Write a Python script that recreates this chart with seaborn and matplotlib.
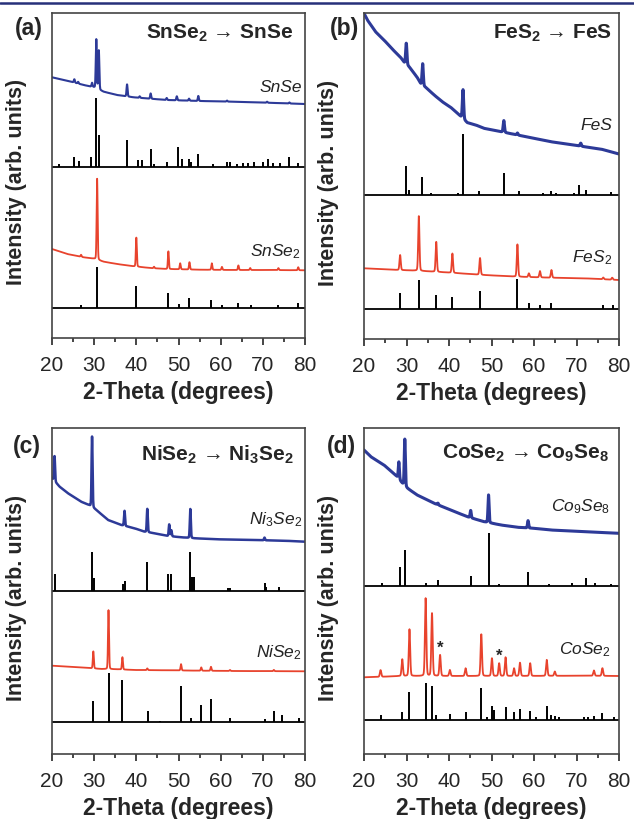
import numpy as np
import matplotlib
matplotlib.use("Agg")
import matplotlib.pyplot as plt
from matplotlib.lines import Line2D
from matplotlib.ticker import MultipleLocator
import seaborn as sns

# ---- data (2-theta in degrees, intensity in arb. units) ----
# (a) SnSe2 -> SnSe
snse_bg_x = [20, 23.6, 27.5, 29.9, 32.2, 35.4, 39.3, 43.3, 47.2, 55.1, 63.0, 70.9, 80]
snse_bg_y = [260.7, 257.3, 253, 250.7, 246.3, 243, 240.7, 239.3, 238, 237, 236.3, 235.3, 234]
snse_pk_x = [25.3, 26.2, 29.5, 30.5, 31.1, 37.8, 40.8, 43.4, 47.2, 49.6, 52.5, 54.7, 61.5, 71.0, 76.3]
snse_pk_h = [3.3, 1.7, 4, 49, 39, 12, 1.5, 5.3, 2, 4, 2, 5, 1, 1, 1]
snse_ref_x = [21.6, 25.3, 26.3, 29.2, 30.4, 31.1, 37.8, 40.5, 41.3, 43.4, 44.2, 47.2, 49.8, 50.8,
              52.4, 52.9, 54.7, 58.3, 61.4, 62.2, 63.8, 65.4, 66.6, 67.8, 70.1, 71.3, 72.4, 74.0, 76.3, 78.4]
snse_ref_h = [3.3, 10, 6, 10, 69, 32, 27, 7, 7, 18, 3, 5, 20, 8,
              8, 5, 13, 3, 5, 5, 3, 4, 4, 5, 5, 8, 4, 4, 10, 4]

snse2_bg_x = [20, 23.6, 27.5, 29.9, 32.2, 35.4, 39.3, 43.3, 47.2, 55.1, 63.0, 70.9, 80]
snse2_bg_y = [89, 84, 80.7, 79.3, 76.3, 74, 71.7, 70, 69, 68.3, 68, 68, 67.7]
snse2_pk_x = [26.9, 30.7, 40.0, 44.2, 47.6, 50.4, 52.6, 57.9, 60.3, 64.2, 67.0, 73.7, 78.4]
snse2_pk_h = [2, 81, 29, 1.5, 17.7, 6, 7.3, 6.5, 3, 4.6, 2, 2, 3]
snse2_ref_x = [26.9, 30.7, 40.0, 47.6, 50.2, 52.6, 57.7, 60.3, 64.1, 67.1, 73.7, 78.3]
snse2_ref_h = [2.7, 40.7, 21.7, 15, 4.3, 10, 8.3, 2.7, 5, 2.7, 2.7, 5]

# (b) FeS2 -> FeS
fes_bg_x = [20, 20.8, 22.7, 24.7, 26.7, 28.6, 29.6, 30.6, 32.5, 33.5, 34.5, 36.5, 38.4, 40.4,
            42.4, 44.3, 46.3, 48.2, 52.2, 56.1, 60, 63.9, 67.8, 71.8, 75.7, 80]
fes_bg_y = [325.7, 319, 307.3, 299, 289.7, 281.7, 275.7, 272.3, 261.7, 254, 251.7, 244, 237.3, 231.7,
            224, 216.3, 214, 210.7, 207.3, 204, 200.7, 197.3, 195, 192.3, 190, 185]
fes_pk_x = [29.95, 33.8, 43.3, 52.9, 56.1, 71.0]
fes_pk_h = [21.3, 22, 29, 11.7, 2, 3]
fes_ref_x = [29.95, 30.7, 33.7, 35.7, 42.0, 43.3, 47.1, 52.9, 56.5, 62.0, 63.9, 65.1, 69.4, 70.7, 72.2, 78.0]
fes_ref_h = [28.7, 4.3, 17.7, 2, 1.7, 61, 3.7, 21.7, 3.7, 1.7, 3.3, 1.7, 1.7, 9.3, 4.3, 2.7]

fes2_bg_x = [20, 24.7, 28.2, 32.5, 40.4, 48.2, 56.1, 63.9, 71.8, 80]
fes2_bg_y = [70.7, 69.7, 69, 68.3, 66.3, 64, 62.3, 61.3, 60.7, 59]
fes2_pk_x = [28.5, 32.9, 37.0, 40.8, 47.3, 56.1, 58.8, 61.4, 64.1, 76.3, 78.4]
fes2_pk_h = [15, 54.7, 30, 19.3, 16.7, 32.3, 3.7, 6.3, 7.7, 1.7, 2]
fes2_ref_x = [28.5, 32.9, 37.0, 40.8, 47.3, 56.1, 58.8, 61.4, 64.1, 76.3, 78.6]
fes2_ref_h = [16, 28.7, 14.3, 12, 17.7, 30.3, 6, 3.7, 6, 3.7, 3.7]

# (c) NiSe2 -> Ni3Se2
ni3se2_bg_x = [20, 21.8, 23.8, 26.9, 28.7, 30.5, 33.3, 36.4, 39.6, 41.9, 44.3, 47.5, 50.6, 53.8, 59.3, 67.2, 75.1, 80]
ni3se2_bg_y = [275.7, 267.3, 260.7, 252.3, 249, 244, 234, 229, 225.7, 222.3, 220.7, 218, 216.7, 215.7, 214.7, 214, 213.3, 212.3]
ni3se2_pk_x = [20.6, 29.5, 37.2, 42.6, 47.8, 48.3, 52.8, 70.4]
ni3se2_pk_h = [25, 70.7, 15, 23.3, 11.7, 6, 29, 2.7]
ni3se2_ref_x = [20.6, 29.5, 30.0, 36.9, 37.2, 42.6, 47.6, 48.3, 52.8, 53.3, 53.6, 61.7, 62.3, 70.4, 70.8, 73.9]
ni3se2_ref_h = [16.7, 39.3, 12.7, 7, 10.3, 29.3, 16.7, 16.7, 39.3, 14.3, 14.3, 2.7, 2.7, 7.7, 4.3, 4.3]

nise2_bg_x = [20, 23.8, 27.7, 31.7, 35.6, 39.6, 47.5, 55.4, 63.3, 80]
nise2_bg_y = [88.3, 87.3, 86.3, 85, 84.7, 84, 83.7, 83.3, 83, 82.7]
nise2_pk_x = [29.8, 33.4, 36.7, 42.6, 50.6, 55.4, 57.7, 62.2, 72.6]
nise2_pk_h = [17, 59, 12.3, 1.7, 6.3, 3.3, 4, 1, 1.3]
nise2_ref_x = [29.8, 33.4, 36.7, 42.7, 45.5, 50.6, 53.0, 55.4, 57.7, 62.1, 70.4, 72.6, 74.6, 78.5]
nise2_ref_h = [20.7, 49, 41.7, 11, 1, 36, 4.3, 17.3, 23.3, 4.3, 2.7, 11, 6.7, 4.3]

# (d) CoSe2 -> Co9Se8
co9se8_bg_x = [20, 21.6, 24.7, 27.8, 29.0, 30.2, 32.5, 36.5, 40.4, 44.3, 48.2, 52.2, 56.1, 60, 63.9, 71.8, 80]
co9se8_bg_y = [304, 297.3, 289, 277.3, 270.7, 265.7, 259, 250.7, 244, 237.3, 232.3, 229, 226.7, 225.7, 224, 222.3, 220.7]
co9se8_pk_x = [28.2, 29.6, 37.4, 45.1, 49.3, 58.6]
co9se8_pk_h = [17, 46.7, 1.7, 7.3, 27.7, 7.3]
co9se8_ref_x = [24.2, 28.4, 29.6, 34.5, 37.5, 45.1, 49.4, 51.8, 58.6, 63.5, 69.0, 72.2, 74.4, 78.0]
co9se8_ref_h = [2.7, 19.3, 36, 2.7, 6, 10, 52.7, 2, 14.3, 2, 3.3, 7.7, 2.7, 2]

cose2_bg_x = [20, 24.7, 28.6, 40.4, 56.1, 71.8, 80]
cose2_bg_y = [76.7, 77.3, 78, 78, 78, 78.3, 78]
cose2_pk_x = [23.9, 29.0, 30.7, 34.5, 36.0, 37.9, 40.2, 43.9, 47.6, 50.1, 51.8, 53.3, 55.3, 56.7, 59.1, 63.0, 64.9, 74.1, 76.1]
cose2_pk_h = [6.7, 16.7, 46.7, 77.7, 62.7, 21, 6, 7.7, 41.7, 17.7, 12.7, 18.7, 7.7, 13.3, 12.7, 16, 4.3, 5.3, 7.7]
cose2_ref_x = [23.9, 29.0, 30.7, 34.5, 36.0, 36.9, 40.2, 43.9, 47.6, 49.0, 50.2, 50.6, 53.3, 55.3, 56.7, 59.1,
               60.4, 63.0, 64.0, 64.9, 65.9, 71.8, 72.7, 74.0, 76.1, 78.8]
cose2_ref_h = [5, 8.3, 28.3, 36.7, 34, 5, 6, 7.7, 31.7, 3.3, 14, 10, 13.3, 8.3, 10.7, 9,
               3.3, 14, 5, 4, 3.3, 2.7, 2.7, 4, 6.7, 2.7]
cose2_star_x = [37.9, 51.8]

BLUE = "#2d3a98"
RED = "#e8432d"

sns.set_style("ticks")
plt.rcParams["font.family"] = ["Liberation Sans", "DejaVu Sans"]
plt.rcParams["mathtext.fontset"] = "custom"
plt.rcParams["mathtext.rm"] = "Liberation Sans"
plt.rcParams["mathtext.it"] = "Liberation Sans:italic"
plt.rcParams["mathtext.bf"] = "Liberation Sans:bold"

W, H = 634, 819
fig = plt.figure(figsize=(W / 100, H / 100), dpi=100)
fig.add_artist(Line2D([0, 1], [1 - 3 / H] * 2, transform=fig.transFigure, color="#27307a", lw=1.8))

theta = np.linspace(20, 80, 3001)


def pattern(bg_x, bg_y, pk_x, pk_h, fwhm):
    y = np.interp(theta, bg_x, bg_y)
    for c, h in zip(pk_x, pk_h):
        d = (theta - c) / (fwhm / 2)
        y = y + h * (0.85 * np.exp(-np.log(2) * d ** 2) + 0.15 / (1 + d ** 2))
    return y


panels = [
    dict(box=(52, 13, 305, 338), tag="(a)", tag_xy=(15, 28),
         title=r"SnSe$_\mathbf{2}$→SnSe", title_xy=(0.955, 0.938),
         div=171, base=30,
         top=(snse_bg_x, snse_bg_y, snse_pk_x, snse_pk_h, 0.28, 1.5), top_ref=(snse_ref_x, snse_ref_h),
         bot=(snse2_bg_x, snse2_bg_y, snse2_pk_x, snse2_pk_h, 0.28, 1.3), bot_ref=(snse2_ref_x, snse2_ref_h),
         top_lab=("SnSe", 79.4, 250), bot_lab=(r"SnSe$_{\mathit{2}}$", 78.9, 86)),
    dict(box=(364, 13, 619, 339), tag="(b)", tag_xy=(330, 28),
         title=r"FeS$_\mathbf{2}$→FeS", title_xy=(0.972, 0.938),
         div=144.5, base=30,
         top=(fes_bg_x, fes_bg_y, fes_pk_x, fes_pk_h, 0.35, 2.2), top_ref=(fes_ref_x, fes_ref_h),
         bot=(fes2_bg_x, fes2_bg_y, fes2_pk_x, fes2_pk_h, 0.35, 1.3), bot_ref=(fes2_ref_x, fes2_ref_h),
         top_lab=("FeS", 78.4, 214), bot_lab=(r"FeS$_{\mathit{2}}$", 78.4, 81)),
    dict(box=(52, 428, 305, 754), tag="(c)", tag_xy=(13, 447),
         title=r"NiSe$_\mathbf{2}$→Ni$_\mathbf{3}$Se$_\mathbf{2}$", title_xy=(0.955, 0.917),
         div=163, base=32,
         top=(ni3se2_bg_x, ni3se2_bg_y, ni3se2_pk_x, ni3se2_pk_h, 0.28, 1.8), top_ref=(ni3se2_ref_x, ni3se2_ref_h),
         bot=(nise2_bg_x, nise2_bg_y, nise2_pk_x, nise2_pk_h, 0.28, 1.3), bot_ref=(nise2_ref_x, nise2_ref_h),
         top_lab=(r"Ni$_{\mathit{3}}$Se$_{\mathit{2}}$", 79.3, 234), bot_lab=(r"NiSe$_{\mathit{2}}$", 79.3, 101)),
    dict(box=(364, 428, 619, 754), tag="(d)", tag_xy=(327, 447),
         title=r"CoSe$_\mathbf{2}$→Co$_\mathbf{9}$Se$_\mathbf{8}$", title_xy=(0.96, 0.923),
         div=168, base=34,
         top=(co9se8_bg_x, co9se8_bg_y, co9se8_pk_x, co9se8_pk_h, 0.3, 2.2), top_ref=(co9se8_ref_x, co9se8_ref_h),
         bot=(cose2_bg_x, cose2_bg_y, cose2_pk_x, cose2_pk_h, 0.38, 1.3), bot_ref=(cose2_ref_x, cose2_ref_h),
         top_lab=(r"Co$_{\mathit{9}}$Se$_{\mathit{8}}$", 78.0, 247), bot_lab=(r"CoSe$_{\mathit{2}}$", 78.0, 104)),
]

for p in panels:
    l, t, r, b = p["box"]
    ax = fig.add_axes([l / W, 1 - b / H, (r - l) / W, (b - t) / H])
    h = b - t

    for key, color in (("top", BLUE), ("bot", RED)):
        bx, by, px, ph, fw, lw = p[key]
        sns.lineplot(x=theta, y=pattern(bx, by, px, ph, fw), ax=ax, color=color, lw=lw, estimator=None)

    ax.vlines(p["top_ref"][0], p["div"], p["div"] + np.array(p["top_ref"][1]), color="black", lw=1.4)
    ax.vlines(p["bot_ref"][0], p["base"], p["base"] + np.array(p["bot_ref"][1]), color="black", lw=1.4)
    ax.axhline(p["div"], color="black", lw=1.3)
    ax.axhline(p["base"], color="black", lw=1.3)

    for lab in (p["top_lab"], p["bot_lab"]):
        ax.text(lab[1], lab[2], lab[0], ha="right", va="center", fontsize=12.5, style="italic", color="#222222")
    ax.text(p["title_xy"][0], p["title_xy"][1], p["title"].replace("→", " → "), transform=ax.transAxes,
            ha="right", va="center", fontsize=15, fontweight="bold")
    fig.text(p["tag_xy"][0] / W, 1 - p["tag_xy"][1] / H, p["tag"], ha="left", va="center",
             fontsize=16.5, fontweight="bold")

    if p["tag"] == "(d)":
        for sx in cose2_star_x:
            yy = np.interp(sx, theta, pattern(*p["bot"][:5])) + 7
            ax.text(sx, yy, "*", ha="center", va="center", fontsize=12, fontweight="bold")

    ax.set_xlim(20, 80)
    ax.set_ylim(0, h)
    ax.set_yticks([])
    ax.set_xticks(range(20, 81, 10))
    ax.xaxis.set_minor_locator(MultipleLocator(5))
    ax.tick_params(axis="x", which="major", direction="out", length=5, width=1.2, labelsize=15, pad=8)
    ax.tick_params(axis="x", which="minor", direction="out", length=3, width=1.2)
    for s in ax.spines.values():
        s.set_color("#444444")
        s.set_linewidth(1.2)
    ax.set_xlabel("2-Theta (degrees)", fontsize=16.5, fontweight="bold", labelpad=4)
    ax.set_ylabel("Intensity (arb. units)", fontsize=15.5, fontweight="bold")
    ax.yaxis.set_label_coords(-25 / (r - l), 0.48)

fig.savefig("out.png", dpi=100)
